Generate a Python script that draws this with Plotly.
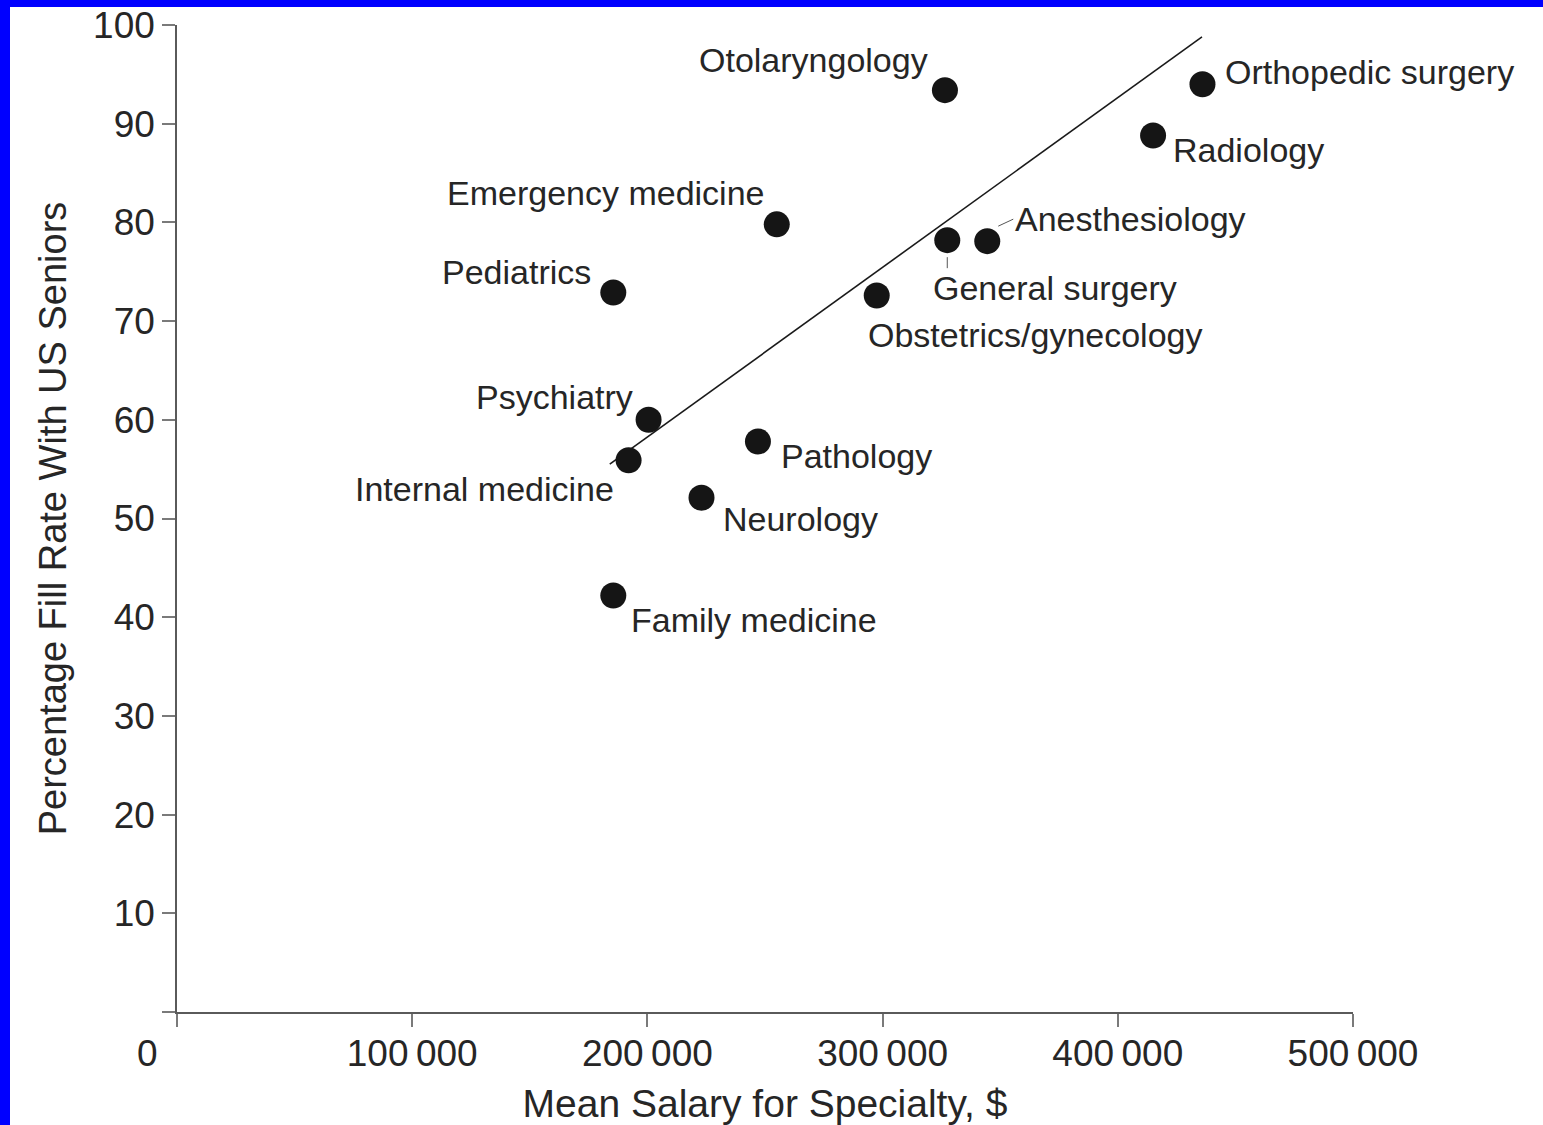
import plotly.graph_objects as go

# ---- data ----
specialties = ["Otolaryngology", "Orthopedic surgery", "Radiology", "Emergency medicine",
               "Anesthesiology", "General surgery", "Pediatrics", "Obstetrics/gynecology",
               "Psychiatry", "Internal medicine", "Pathology", "Neurology", "Family medicine"]
mean_salary = [326500, 436000, 415000, 255000, 344500, 327500, 185500, 297500,
               200500, 192000, 247000, 223000, 185500]
fill_rate = [93.4, 94.0, 88.8, 79.8, 78.1, 78.2, 72.9, 72.6, 60.0, 55.9, 57.8, 52.1, 42.2]

trend_salary = [184000, 435800]
trend_fill = [55.5, 98.8]

x_tickvals = [0, 100000, 200000, 300000, 400000, 500000]
x_ticktext = ["", "100\u2009000", "200\u2009000", "300\u2009000", "400\u2009000", "500\u2009000"]
y_tickvals = [0, 10, 20, 30, 40, 50, 60, 70, 80, 90, 100]
y_ticktext = ["", "10", "20", "30", "40", "50", "60", "70", "80", "90", "100"]

# label placement (pixel offsets from each point): xanchor, xshift, yshift
label_pos = {
    "Otolaryngology": ("right", -15, 30),
    "Orthopedic surgery": ("left", 21, 12),
    "Radiology": ("left", 18, -14),
    "Emergency medicine": ("right", -11, 31),
    "Anesthesiology": ("left", 26, 22),
    "General surgery": ("left", -16, -48),
    "Obstetrics/gynecology": ("left", -11, -40),
    "Pediatrics": ("right", -20, 20),
    "Psychiatry": ("right", -14, 23),
    "Internal medicine": ("right", -13, -29),
    "Pathology": ("left", 21, -14),
    "Neurology": ("left", 19, -21),
    "Family medicine": ("left", 16, -25),
}

FONT = "Liberation Sans, Arial, Helvetica, sans-serif"
TXT = "#262626"
W, H = 1543, 1125
ML, MR, MT, MB = 177, 190, 25, 113

fig = go.Figure()
fig.add_trace(go.Scatter(x=trend_salary, y=trend_fill, mode="lines",
                         line=dict(color="#1a1a1a", width=1.6), hoverinfo="skip",
                         showlegend=False))
fig.add_trace(go.Scatter(x=mean_salary, y=fill_rate, mode="markers",
                         marker=dict(color="#151515", size=26, line=dict(width=0)),
                         text=specialties, showlegend=False))

annotations = []
for name, xv, yv in zip(specialties, mean_salary, fill_rate):
    anc, dx, dy = label_pos[name]
    annotations.append(dict(x=xv, y=yv, xref="x", yref="y", text=name, showarrow=False,
                            xanchor=anc, yanchor="middle", xshift=dx, yshift=dy,
                            font=dict(family=FONT, size=34, color=TXT)))
# shared origin label
annotations.append(dict(x=0, y=0, xref="x", yref="y", text="0", showarrow=False,
                        xanchor="center", yanchor="middle", xshift=-30, yshift=-41,
                        font=dict(family=FONT, size=37, color=TXT)))

# leader lines (pixel offsets anchored on points)
shapes = []
idx_a = specialties.index("Anesthesiology")
shapes.append(dict(type="line", xref="x", yref="y", xsizemode="pixel", ysizemode="pixel",
                   xanchor=mean_salary[idx_a], yanchor=fill_rate[idx_a],
                   x0=11, y0=15, x1=26, y1=22, line=dict(color="#555", width=1)))
idx_g = specialties.index("General surgery")
shapes.append(dict(type="line", xref="x", yref="y", xsizemode="pixel", ysizemode="pixel",
                   xanchor=mean_salary[idx_g], yanchor=fill_rate[idx_g],
                   x0=0, y0=-17, x1=0, y1=-28, line=dict(color="#555", width=1)))

# blue frame on top and left edges
pw = W - ML - MR
ph = H - MT - MB
shapes.append(dict(type="rect", xref="paper", yref="paper", layer="above",
                   x0=-ML / pw, x1=(W - ML) / pw, y0=(H - MB - 7) / ph, y1=(H - MB) / ph,
                   fillcolor="#0000FF", line=dict(width=0)))
shapes.append(dict(type="rect", xref="paper", yref="paper", layer="above",
                   x0=-ML / pw, x1=(10 - ML) / pw, y0=-MB / ph, y1=(H - MB) / ph,
                   fillcolor="#0000FF", line=dict(width=0)))

axis_common = dict(showgrid=False, zeroline=False, showline=True, linecolor="#5a5a5a",
                   linewidth=1.6, ticks="outside", ticklen=13, tickwidth=1.6,
                   tickcolor="#7a7a7a", tickfont=dict(family=FONT, size=37, color=TXT))

fig.update_layout(
    width=W, height=H,
    margin=dict(l=ML, r=MR, t=MT, b=MB),
    paper_bgcolor="white", plot_bgcolor="white",
    xaxis=dict(range=[0, 500000], tickmode="array", tickvals=x_tickvals, ticktext=x_ticktext,
               ticklabelstandoff=-5,
               title=dict(text="Mean Salary for Specialty, $",
                          font=dict(family=FONT, size=39, color=TXT), standoff=28),
               automargin=False, **axis_common),
    yaxis=dict(range=[0, 100], tickmode="array", tickvals=y_tickvals, ticktext=y_ticktext,
               title=dict(text="Percentage Fill Rate With US Seniors",
                          font=dict(family=FONT, size=38, color=TXT), standoff=15),
               automargin=False, **axis_common),
    annotations=annotations,
    shapes=shapes,
)

fig.write_html("out.html", config={"displayModeBar": False},
               post_script="document.body.style.margin='0';document.body.style.padding='0';")
